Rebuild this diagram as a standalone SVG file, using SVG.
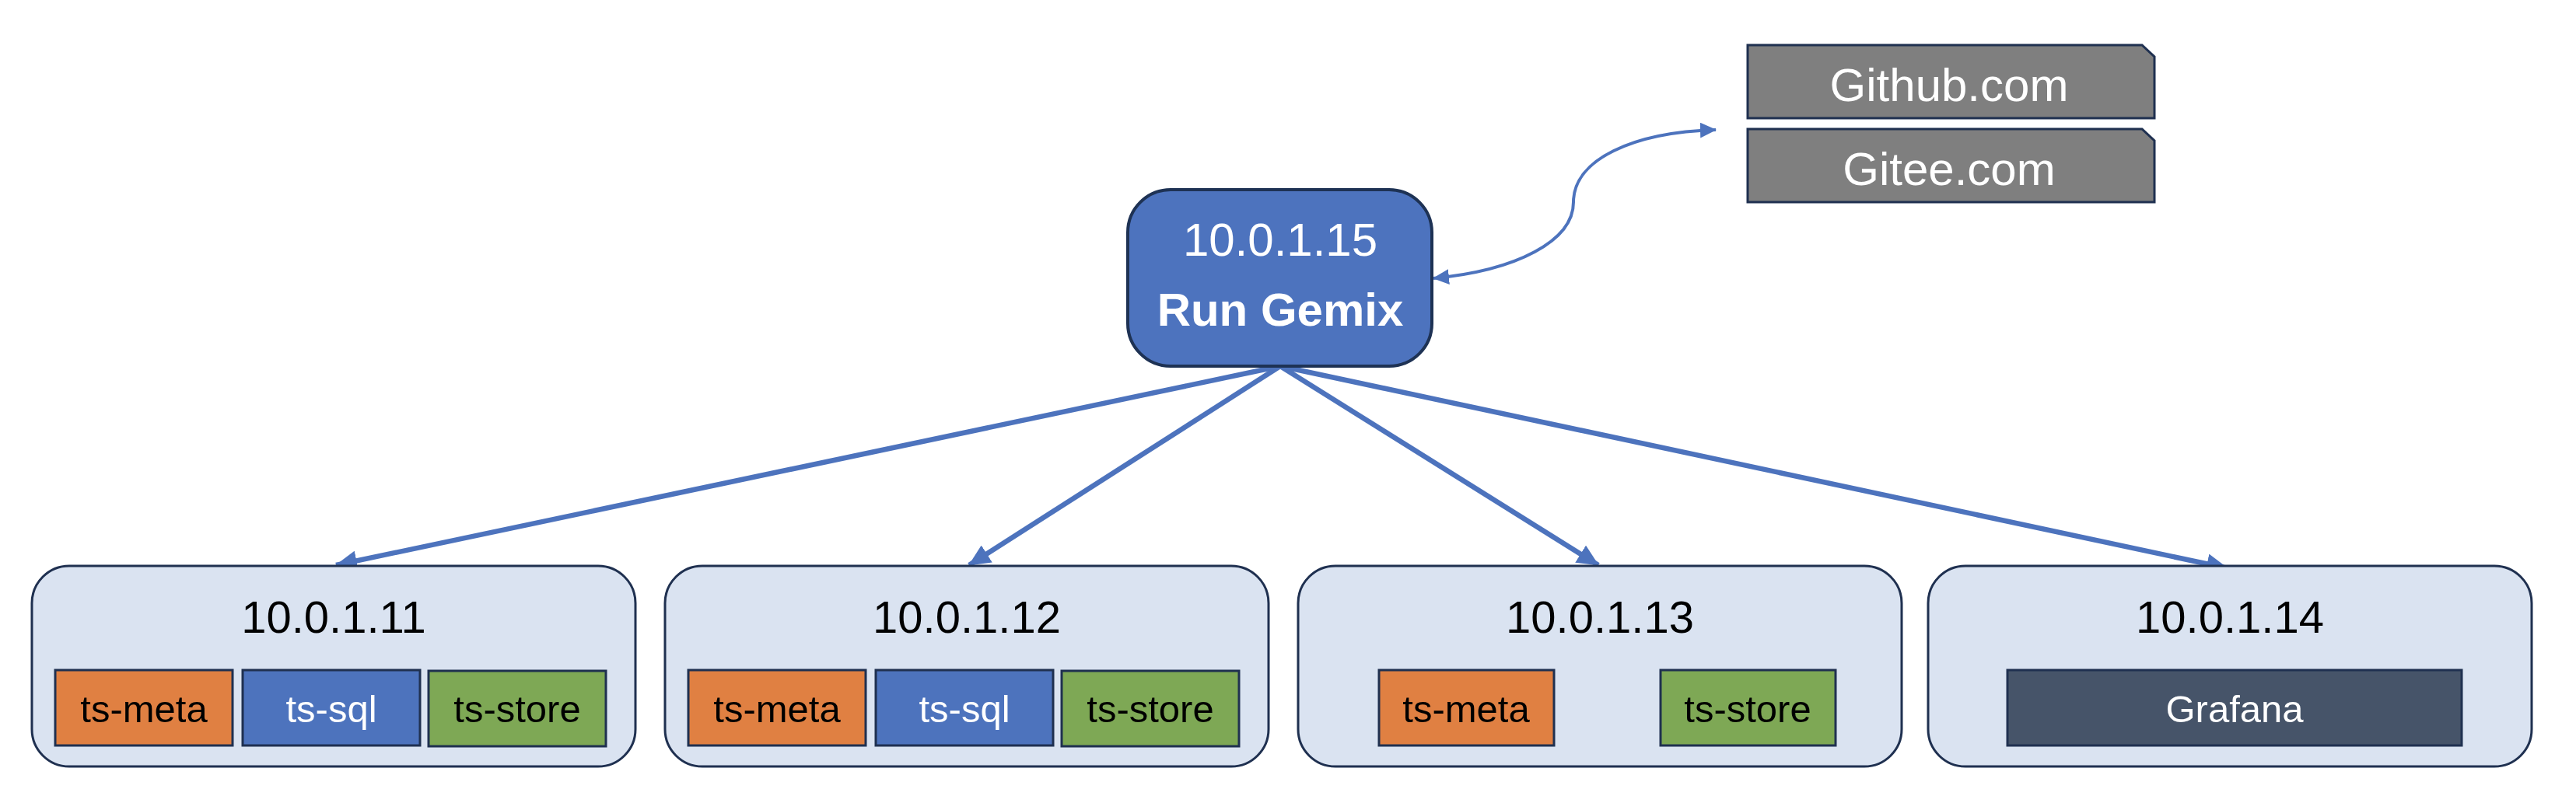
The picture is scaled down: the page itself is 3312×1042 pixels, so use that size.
<svg xmlns="http://www.w3.org/2000/svg" width="3312" height="1042" viewBox="0 0 3312 1042">
<style>
text{font-family:"Liberation Sans",Arial,sans-serif;text-anchor:middle}
.host{fill:#dae3f1;stroke:#1f3050;stroke-width:3}
.ip{font-size:58px;fill:#000}
.svc{stroke:#1f3050;stroke-width:3}
.meta{fill:#e08042}
.sql{fill:#4d73bd}
.store{fill:#7ea855}
.graf{fill:#465469}
.lbl{font-size:49px;fill:#000}
.lblw{font-size:49px;fill:#fff}
.repo{fill:#7f7f7f;stroke:#1f3050;stroke-width:3}
.repot{font-size:60px;fill:#fff}
.conn{stroke:#4d73bd;stroke-width:6.5;fill:none}
.curve{stroke:#4d73bd;stroke-width:4;fill:none}
</style>
<defs>
<marker id="ah" markerUnits="userSpaceOnUse" viewBox="0 0 28 26" markerWidth="28" markerHeight="26" refX="27" refY="13" orient="auto">
<path d="M0,0 L28,13 L0,26 z" fill="#4d73bd"/>
</marker>
<marker id="ahs" markerUnits="userSpaceOnUse" viewBox="0 0 21 20" markerWidth="21" markerHeight="20" refX="20" refY="10" orient="auto-start-reverse">
<path d="M0,0 L21,10 L0,20 z" fill="#4d73bd"/>
</marker>
</defs>
<rect width="3312" height="1042" fill="#fff"/>

<g id="connectors">
<line class="conn" x1="1646" y1="471" x2="432" y2="727" marker-end="url(#ah)"/>
<line class="conn" x1="1646" y1="471" x2="1246" y2="727" marker-end="url(#ah)"/>
<line class="conn" x1="1646" y1="471" x2="2055" y2="727" marker-end="url(#ah)"/>
<line class="conn" x1="1646" y1="471" x2="2864" y2="731" marker-end="url(#ah)"/>
<path class="curve" d="M1843 358 C1950 348 2023 310 2023 260 C2023 205 2100 170 2206 167" marker-start="url(#ahs)" marker-end="url(#ahs)"/>
</g>

<g id="gemix">
<rect x="1450" y="244" width="391" height="227" rx="55" fill="#4d73be" stroke="#1e3254" stroke-width="4"/>
<text x="1646" y="329" style="font-size:60px;fill:#fff">10.0.1.15</text>
<text x="1646" y="419" style="font-size:60px;fill:#fff;font-weight:bold">Run Gemix</text>
</g>

<g id="github">
<path class="repo" d="M2247 58 H2754 L2770 73 V152 H2247 Z"/>
<text class="repot" x="2506" y="130">Github.com</text>
</g>
<g id="gitee">
<path class="repo" d="M2247 166 H2754 L2770 181 V260 H2247 Z"/>
<text class="repot" x="2506" y="238">Gitee.com</text>
</g>

<g id="host11">
<rect class="host" x="41" y="728" width="776" height="258" rx="48"/>
<text class="ip" x="429" y="814">10.0.1.11</text>
<rect class="svc meta" x="71" y="862" width="228" height="97"/>
<text class="lbl" x="185" y="929">ts-meta</text>
<rect class="svc sql" x="312" y="862" width="228" height="97"/>
<text class="lblw" x="426" y="929">ts-sql</text>
<rect class="svc store" x="551" y="863" width="228" height="97"/>
<text class="lbl" x="665" y="929">ts-store</text>
</g>

<g id="host12">
<rect class="host" x="855" y="728" width="776" height="258" rx="48"/>
<text class="ip" x="1243" y="814">10.0.1.12</text>
<rect class="svc meta" x="885" y="862" width="228" height="97"/>
<text class="lbl" x="999" y="929">ts-meta</text>
<rect class="svc sql" x="1126" y="862" width="228" height="97"/>
<text class="lblw" x="1240" y="929">ts-sql</text>
<rect class="svc store" x="1365" y="863" width="228" height="97"/>
<text class="lbl" x="1479" y="929">ts-store</text>
</g>

<g id="host13">
<rect class="host" x="1669" y="728" width="776" height="258" rx="48"/>
<text class="ip" x="2057" y="814">10.0.1.13</text>
<rect class="svc meta" x="1773" y="862" width="225" height="97"/>
<text class="lbl" x="1885" y="929">ts-meta</text>
<rect class="svc store" x="2135" y="862" width="225" height="97"/>
<text class="lbl" x="2247" y="929">ts-store</text>
</g>

<g id="host14">
<rect class="host" x="2479" y="728" width="776" height="258" rx="48"/>
<text class="ip" x="2867" y="814">10.0.1.14</text>
<rect class="svc graf" x="2581" y="862" width="584" height="97"/>
<text class="lblw" x="2873" y="929">Grafana</text>
</g>
</svg>
